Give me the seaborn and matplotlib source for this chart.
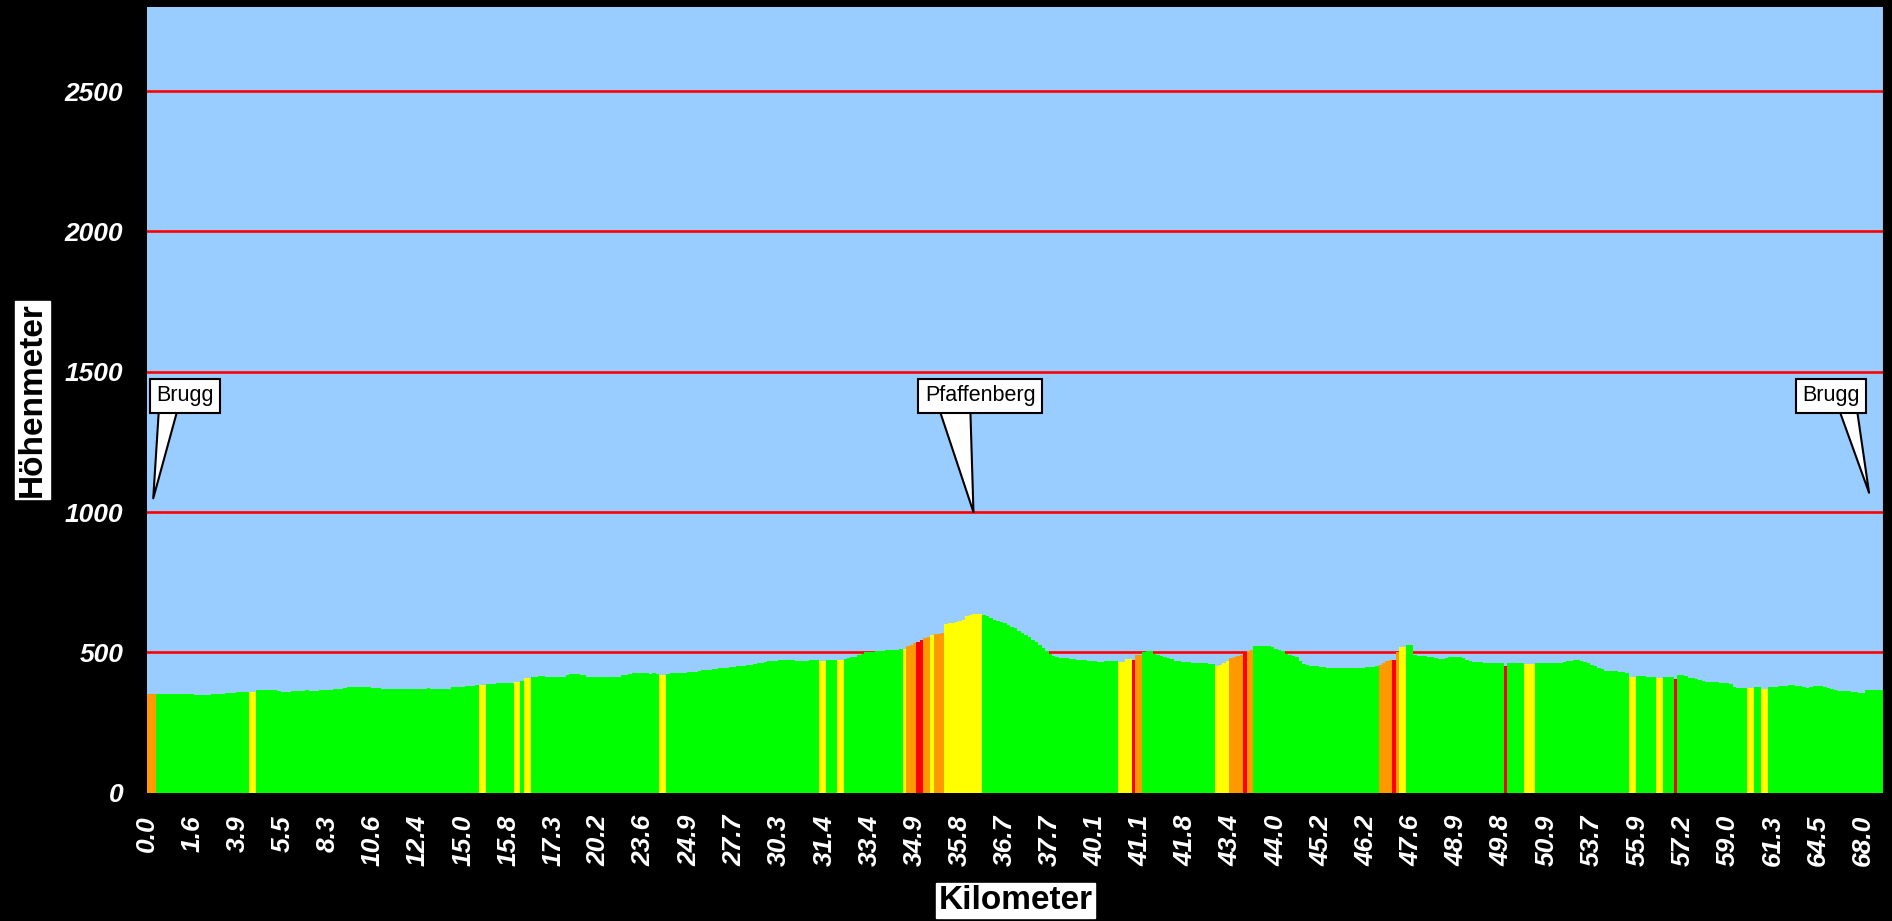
import matplotlib
matplotlib.use('Agg')
import matplotlib.pyplot as plt
import pandas as pd
import seaborn as sns

# km labels shown under every 13th profile point
km_labels = ['0.0', '1.6', '3.9', '5.5', '8.3', '10.6', '12.4', '15.0', '15.8',
             '17.3', '20.2', '23.6', '24.9', '27.7', '30.3', '31.4', '33.4',
             '34.9', '35.8', '36.7', '37.7', '40.1', '41.1', '41.8', '43.4',
             '44.0', '45.2', '46.2', '47.6', '48.9', '49.8', '50.9', '53.7',
             '55.9', '57.2', '59.0', '61.3', '64.5', '68.0']
label_step = 13

# elevation of each profile point (m), one row per km label
elevation = [
    353, 353, 353, 353, 353, 353, 353, 353, 352, 352, 351, 350, 350,
    350, 349, 349, 349, 349, 349, 350, 350, 352, 353, 354, 356, 357,
    358, 359, 360, 360, 358, 359, 366, 367, 367, 367, 366, 365, 362,
    360, 360, 360, 361, 362, 363, 364, 365, 364, 363, 364, 366, 367,
    367, 367, 368, 369, 371, 373, 375, 376, 376, 375, 375, 375, 375,
    374, 373, 372, 370, 369, 370, 371, 370, 368, 368, 368, 368, 368,
    369, 370, 371, 372, 371, 370, 369, 369, 370, 371, 375, 378, 378,
    377, 379, 380, 382, 383, 384, 385, 387, 388, 389, 390, 390, 391,
    391, 392, 393, 393, 399, 407, 410, 412, 414, 415, 415, 414, 413,
    413, 413, 413, 414, 420, 423, 423, 422, 419, 418, 413, 412, 412,
    412, 412, 413, 413, 414, 414, 414, 418, 420, 424, 426, 426, 425,
    425, 425, 424, 425, 422, 420, 420, 424, 425, 426, 426, 427, 428,
    429, 430, 431, 434, 436, 438, 439, 441, 442, 443, 444, 445, 447,
    448, 450, 452, 453, 455, 456, 458, 461, 463, 466, 468, 470, 471,
    472, 473, 473, 473, 472, 470, 471, 471, 471, 472, 472, 472, 470,
    471, 472, 473, 473, 474, 474, 478, 480, 482, 485, 490, 495, 500,
    502, 503, 504, 505, 506, 507, 508, 509, 510, 511, 512, 524, 528,
    532, 536, 543, 550, 555, 562, 565, 567, 570, 600, 605, 606, 608,
    613, 615, 630, 632, 637, 638, 638, 635, 630, 623, 617, 612, 608,
    604, 598, 592, 586, 578, 570, 562, 554, 545, 536, 526, 515, 505,
    495, 486, 482, 480, 480, 479, 477, 475, 474, 473, 472, 471, 470,
    470, 467, 467, 469, 469, 469, 468, 465, 466, 478, 478, 474, 490,
    490, 503, 504, 504, 494, 492, 488, 484, 480, 476, 471, 468, 466,
    465, 464, 463, 463, 462, 462, 461, 460, 459, 452, 456, 463, 468,
    479, 483, 486, 490, 497, 506, 507, 524, 524, 524, 523, 522, 520,
    512, 508, 504, 496, 492, 488, 482, 470, 458, 454, 452, 451, 450,
    448, 447, 446, 445, 445, 444, 444, 444, 444, 444, 445, 445, 446,
    447, 448, 449, 452, 456, 462, 468, 472, 472, 500, 519, 520, 526,
    526, 490, 488, 487, 486, 485, 484, 480, 477, 478, 481, 482, 482,
    482, 482, 481, 472, 468, 466, 465, 464, 463, 463, 462, 462, 461,
    461, 452, 461, 461, 462, 462, 461, 460, 460, 460, 461, 461, 461,
    461, 461, 461, 462, 463, 465, 468, 470, 472, 472, 470, 466, 462,
    454, 450, 443, 440, 434, 433, 432, 432, 431, 430, 428, 414, 414,
    416, 416, 415, 414, 413, 412, 410, 410, 411, 412, 414, 405, 419,
    419, 416, 410, 407, 405, 403, 398, 396, 395, 394, 393, 392, 391,
    390, 389, 375, 374, 374, 374, 373, 373, 377, 377, 371, 371, 377,
    378, 378, 379, 380, 382, 384, 383, 381, 379, 378, 374, 375, 380,
    382, 382, 378, 372, 368, 366, 364, 362, 362, 361, 360, 358, 357,
    357, 366, 367, 367, 366, 365, 365,
]

# points by gradient class (all others are flat / green)
yellow_points = [30, 31, 96, 97, 106, 107, 109, 110, 148, 149, 194, 195, 199,
                 200, 218, 226, 230, 231, 232, 233, 234, 235, 236, 237, 238,
                 239, 240, 280, 281, 282, 283, 308, 309, 310, 311, 361, 362,
                 397, 398, 399, 427, 428, 435, 436, 461, 462, 465, 466]
orange_points = [0, 1, 2, 219, 220, 221, 224, 225, 227, 228, 229, 285, 286,
                 312, 313, 314, 315, 317, 318, 355, 356, 357, 358, 360]
red_points = [222, 223, 284, 316, 359, 391, 440]

y_ticks = [0, 500, 1000, 1500, 2000, 2500]

grade_colors = {'flach': '#00FF00', 'mittel': '#FFFF00',
                'steil': '#FF9900', 'sehr steil': '#FF0000'}

grade = ['flach'] * len(elevation)
for i in yellow_points:
    grade[i] = 'mittel'
for i in orange_points:
    grade[i] = 'steil'
for i in red_points:
    grade[i] = 'sehr steil'

df = pd.DataFrame({'punkt': range(len(elevation)),
                   'hoehe': elevation,
                   'steigung': grade})

plt.rcParams['font.family'] = ['Liberation Sans', 'DejaVu Sans']

fig = plt.figure(figsize=(18.92, 9.21), dpi=100, facecolor='black')
ax = fig.add_axes([147 / 1892, 1 - 792.7 / 921, 1737 / 1892, 785.7 / 921])
ax.set_facecolor('#99CCFF')

sns.barplot(data=df, x='punkt', y='hoehe', hue='steigung',
            hue_order=list(grade_colors), palette=grade_colors,
            saturation=1, dodge=False, width=1, errorbar=None, legend=False,
            linewidth=0, antialiased=False, ax=ax)

ax.set_xlim(0, len(elevation) - 1)
ax.set_ylim(0, 2800)
ax.set_axisbelow(True)
ax.yaxis.grid(True, color='#FF0000', linewidth=1.9)
ax.xaxis.grid(False)

ax.set_yticks(y_ticks)
ax.set_yticklabels([str(v) for v in y_ticks])
ax.set_xticks(range(0, len(km_labels) * label_step, label_step))
ax.set_xticklabels(km_labels, rotation=90)
ax.tick_params(axis='both', length=0, labelcolor='white', labelsize=19)
ax.tick_params(axis='x', pad=16)
ax.tick_params(axis='y', pad=17)
for lab in ax.get_xticklabels() + ax.get_yticklabels():
    lab.set_fontweight('bold')
    lab.set_fontstyle('italic')

ax.set_xlabel('')
ax.set_ylabel('')
for side in ['left', 'bottom', 'top']:
    ax.spines[side].set_visible(False)
ax.spines['right'].set_color('black')
ax.spines['right'].set_linewidth(1.5)

box = dict(boxstyle='square,pad=0.06', fc='white', ec='white')
fig.text(32 / 1892, 1 - 400 / 921, 'Höhenmeter', rotation=90, ha='center',
         va='center', fontsize=24, fontweight='bold', color='black', bbox=box)
fig.text(1015.5 / 1892, 1 - 900 / 921, 'Kilometer', ha='center', va='center',
         fontsize=24, fontweight='bold', color='black', bbox=box)

# callouts: name, tip (point, m), box centre (point, m), tail width, tail anchor
callouts = [('Brugg', (1.8, 1049), (11.0, 1415), 0.95, 0.23),
            ('Pfaffenberg', (237.9, 1000), (239.8, 1415), 1.55, 0.26),
            ('Brugg', (495.7, 1069), (484.7, 1415), 0.9, 0.76)]
for name, tip, centre, tail, relx in callouts:
    ax.annotate(name, xy=tip, xytext=centre, textcoords='data',
                ha='center', va='center', fontsize=15.5, color='black',
                bbox=dict(boxstyle='square,pad=0.3', fc='white', ec='black',
                          lw=1.5),
                arrowprops=dict(arrowstyle=f'wedge,tail_width={tail}',
                                fc='white', ec='black', lw=1.5,
                                relpos=(relx, 0.3), patchA=None,
                                shrinkA=0, shrinkB=0))

fig.savefig('out.png', dpi=100, facecolor='black')
